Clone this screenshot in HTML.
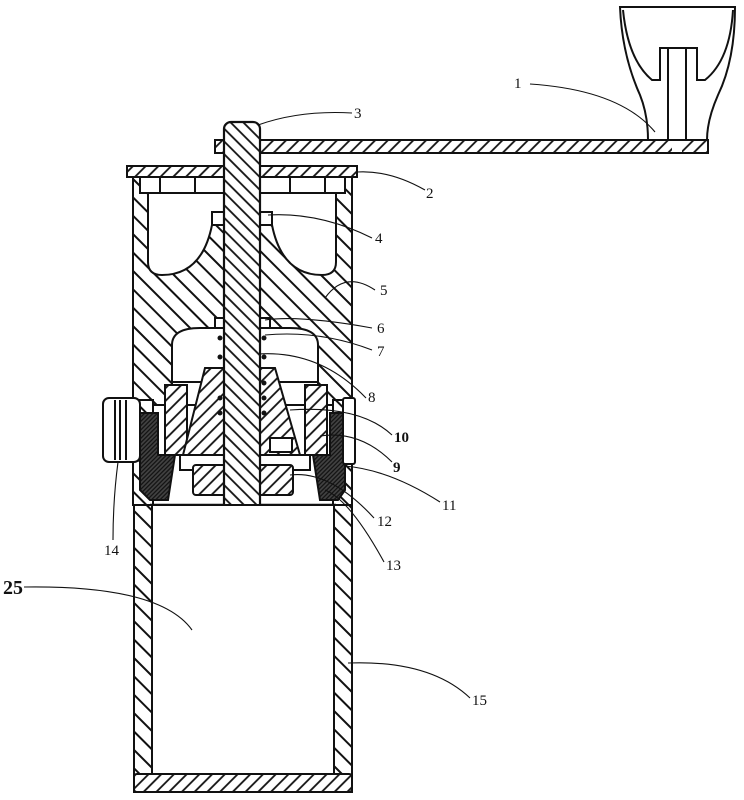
<!DOCTYPE html>
<html><head><meta charset="utf-8"><style>html,body{margin:0;padding:0;background:#fff}svg{display:block}</style></head>
<body>
<svg width="744" height="800" viewBox="0 0 744 800" xmlns="http://www.w3.org/2000/svg" font-family="Liberation Serif, serif" font-size="15">
<defs>
<pattern id="h1" width="13" height="13" patternUnits="userSpaceOnUse" patternTransform="rotate(-45)"><rect width="13" height="13" fill="#fff"/><line x1="6.5" y1="0" x2="6.5" y2="13" stroke="#111" stroke-width="2"/></pattern>
<pattern id="h2" width="9" height="9" patternUnits="userSpaceOnUse" patternTransform="rotate(-45)"><rect width="9" height="9" fill="#fff"/><line x1="4.5" y1="0" x2="4.5" y2="9" stroke="#111" stroke-width="1.8"/></pattern>
<pattern id="h3" width="9" height="9" patternUnits="userSpaceOnUse" patternTransform="rotate(45)"><rect width="9" height="9" fill="#fff"/><line x1="4.5" y1="0" x2="4.5" y2="9" stroke="#111" stroke-width="1.8"/></pattern>
<pattern id="h4" width="9" height="9" patternUnits="userSpaceOnUse" patternTransform="rotate(45)"><rect width="9" height="9" fill="#fff"/><line x1="4.5" y1="0" x2="4.5" y2="9" stroke="#111" stroke-width="1.8"/></pattern>
<pattern id="hd" width="3" height="3" patternUnits="userSpaceOnUse" patternTransform="rotate(45)"><rect width="3" height="3" fill="#444"/><line x1="1.5" y1="0" x2="1.5" y2="3" stroke="#111" stroke-width="1.3"/></pattern>
</defs>
<g stroke="#111" stroke-width="2" fill="none">
<!-- knob -->
<path d="M620,7 H735 Q735,60 718,95 Q707,120 707,140 H648 Q648,115 640,95 Q622,55 620,7 Z" fill="#fff"/>
<path d="M623,10 Q628,60 652,80 H660 V48 H697 V80 H705 Q730,60 733,10"/>
<line x1="668" y1="48" x2="668" y2="140"/><line x1="686" y1="48" x2="686" y2="140"/>
<!-- handle bar -->
<rect x="215" y="140" width="493" height="13" fill="url(#h3)"/>
<rect x="672" y="141" width="10" height="11" fill="#fff" stroke="none"/>
<!-- lid -->
<rect x="127" y="166" width="230" height="11" fill="url(#h3)"/>
<!-- ring under lid -->
<rect x="140" y="177" width="205" height="16" fill="#fff"/>
<line x1="160" y1="177" x2="160" y2="193"/><line x1="195" y1="177" x2="195" y2="193"/><line x1="290" y1="177" x2="290" y2="193"/><line x1="325" y1="177" x2="325" y2="193"/>
<!-- body -->
<path fill-rule="evenodd" fill="url(#h1)" d="M133,177 H352 V405 H133 Z M148,193 H336 V262 Q336,275 322,275 Q282,275 272,225 H212 Q202,275 162,275 Q148,275 148,262 Z M172,405 V345 Q172,328 200,328 H290 Q318,328 318,345 V405 Z"/>
<rect x="140" y="177" width="205" height="16" fill="#fff"/>
<line x1="160" y1="177" x2="160" y2="193"/><line x1="195" y1="177" x2="195" y2="193"/><line x1="290" y1="177" x2="290" y2="193"/><line x1="325" y1="177" x2="325" y2="193"/>
<rect x="212" y="212" width="60" height="13" fill="#fff"/>
<line x1="172" y1="382" x2="318" y2="382"/>
<!-- lower walls -->
<rect x="133" y="400" width="20" height="105" fill="url(#h1)"/>
<rect x="333" y="400" width="19" height="105" fill="url(#h1)"/>
<!-- dark rings -->
<path d="M140,413 H158 V455 H175 L168,500 H150 L140,490 Z" fill="url(#hd)"/>
<path d="M345,413 H330 V455 H313 L320,500 H338 L345,490 Z" fill="url(#hd)"/>
<!-- cap 14 -->
<rect x="103" y="398" width="37" height="64" rx="6" fill="#fff"/>
<line x1="115" y1="400" x2="115" y2="460"/><line x1="120" y1="400" x2="120" y2="460"/><line x1="126" y1="400" x2="126" y2="460"/>
<!-- cap 11 -->
<rect x="343" y="398" width="12" height="66" rx="2" fill="#fff"/>
<!-- burr rings -->
<rect x="165" y="385" width="22" height="70" fill="url(#h4)"/>
<rect x="305" y="385" width="22" height="70" fill="url(#h4)"/>
<!-- cone -->
<path d="M205,368 H235 V455 H183 Z" fill="url(#h4)"/>
<path d="M250,368 H275 L300,455 H250 Z" fill="url(#h4)"/>
<rect x="270" y="438" width="22" height="14" fill="#fff"/>
<rect x="180" y="455" width="130" height="15" fill="#fff"/>
<rect x="193" y="465" width="100" height="30" rx="3" fill="url(#h4)"/>
<line x1="150" y1="505" x2="336" y2="505" stroke-width="2.5"/>
<!-- spring dots -->
<g fill="#111" stroke="none">
<circle cx="220" cy="338" r="2.5"/><circle cx="264" cy="338" r="2.5"/><circle cx="220" cy="357" r="2.5"/><circle cx="264" cy="357" r="2.5"/>
<circle cx="264" cy="383" r="2.5"/><circle cx="264" cy="398" r="2.5"/><circle cx="264" cy="413" r="2.5"/><circle cx="220" cy="398" r="2.5"/><circle cx="220" cy="413" r="2.5"/>
</g>
<rect x="215" y="318" width="55" height="10" fill="#fff"/>
<!-- shaft -->
<rect x="224" y="122" width="36" height="393" rx="7" fill="url(#h2)" stroke-width="2.2"/>
<!-- cup -->
<rect x="134" y="505" width="18" height="287" fill="url(#h1)"/>
<rect x="334" y="505" width="18" height="287" fill="url(#h1)"/>
<rect x="134" y="774" width="218" height="18" rx="3" fill="url(#h3)"/>
<rect x="152" y="505" width="182" height="269" fill="#fff"/>
<!-- leaders -->
<g stroke-width="1.1">
<path d="M530,84 Q620,90 655,132"/>
<path d="M352,113 Q300,110 258,125"/>
<path d="M425,190 Q390,170 357,172"/>
<path d="M372,238 Q320,212 268,215"/>
<path d="M375,290 Q345,270 325,298"/>
<path d="M372,328 Q300,315 265,320"/>
<path d="M372,350 Q320,330 265,335"/>
<path d="M366,398 Q320,350 258,354"/>
<path d="M392,435 Q360,405 290,410"/>
<path d="M392,462 Q360,430 320,436"/>
<path d="M440,502 Q390,470 345,466"/>
<path d="M374,518 Q330,470 290,475"/>
<path d="M384,562 Q350,500 325,490"/>
<path d="M113,540 Q113,500 118,462"/>
<path d="M24,587 Q160,585 192,630"/>
<path d="M470,698 Q430,660 348,663"/>
</g>
</g>
<g fill="#111">
<text x="514" y="88">1</text><text x="426" y="198">2</text><text x="354" y="118">3</text><text x="375" y="243">4</text>
<text x="380" y="295">5</text><text x="377" y="333">6</text><text x="377" y="356">7</text><text x="368" y="402">8</text>
<text x="393" y="472" font-weight="bold">9</text><text x="394" y="442" font-weight="bold">10</text><text x="442" y="510">11</text>
<text x="377" y="526">12</text><text x="386" y="570">13</text><text x="104" y="555">14</text><text x="472" y="705">15</text>
<text x="3" y="594" font-size="20" font-weight="bold">25</text>
</g>
</svg>
</body></html>
